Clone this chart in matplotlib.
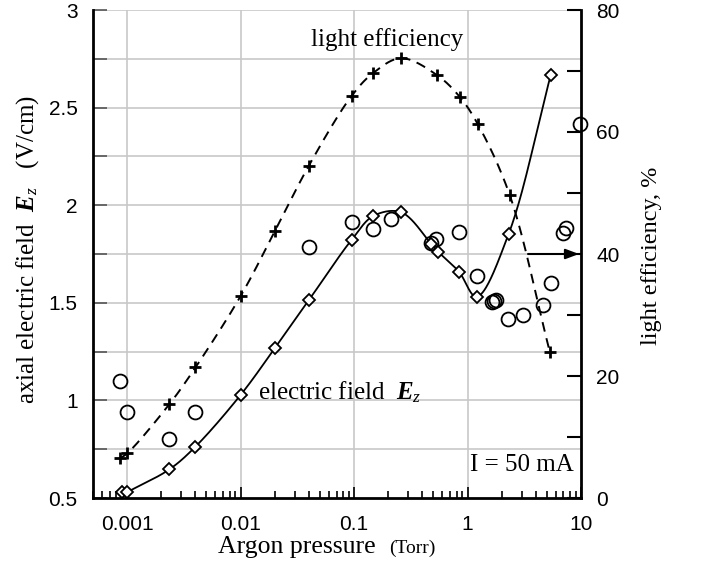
import numpy as np
import matplotlib
matplotlib.use("Agg")
import matplotlib.pyplot as plt
from matplotlib.ticker import FixedLocator, NullFormatter, LogLocator

plt.rcParams['mathtext.fontset'] = 'custom'
plt.rcParams['mathtext.rm'] = 'Liberation Serif'
plt.rcParams['mathtext.it'] = 'Liberation Serif:italic'
plt.rcParams['mathtext.bf'] = 'Liberation Serif:bold:italic'

# ---- data ----
ez_p = [0.0009, 0.001, 0.00236, 0.004, 0.01, 0.02, 0.04, 0.095, 0.148, 0.26,
        0.48, 0.55, 0.84, 1.2, 2.3, 5.4]
ez_v = [0.53, 0.53, 0.647, 0.763, 1.028, 1.267, 1.514, 1.822, 1.945, 1.964,
        1.80, 1.762, 1.659, 1.531, 1.852, 2.665]

eff_p = [0.00086, 0.001, 0.00236, 0.004, 0.01, 0.02, 0.04, 0.095, 0.148, 0.26,
         0.54, 0.85, 1.23, 2.35, 5.3]
eff_v = [6.5, 7.3, 15.4, 21.4, 33.1, 43.7, 54.5, 65.9, 69.7, 72.1,
         69.3, 65.8, 61.3, 49.7, 24.0]

circ_p = [0.00086, 0.001, 0.00236, 0.004, 0.04, 0.095, 0.148, 0.21,
          0.48, 0.53, 0.84, 1.2, 1.63, 1.71, 1.77, 2.29, 3.06, 4.66, 5.45,
          6.9, 7.4, 9.8]
circ_v = [1.099, 0.939, 0.802, 0.942, 1.787, 1.912, 1.878, 1.928,
          1.805, 1.827, 1.861, 1.639, 1.505, 1.51, 1.514, 1.417, 1.437, 1.489, 1.60,
          1.856, 1.882, 2.416]

x_ticks = [0.001, 0.01, 0.1, 1, 10]
x_labels = ["0.001", "0.01", "0.1", "1", "10"]
yl_ticks = [0.5, 1, 1.5, 2, 2.5, 3]
yl_labels = ["0.5", "1", "1.5", "2", "2.5", "3"]
yr_ticks = [0, 20, 40, 60, 80]


def smooth(xs, ys, yscale, n=40):
    P = np.column_stack([np.log10(xs) * 113.5, np.asarray(ys, float) * yscale])
    P = np.vstack([2 * P[0] - P[1], P, 2 * P[-1] - P[-2]])
    out = []
    a = 0.5
    for i in range(1, len(P) - 2):
        p0, p1, p2, p3 = P[i - 1], P[i], P[i + 1], P[i + 2]
        t0 = 0.0
        t1 = t0 + max(np.linalg.norm(p1 - p0), 1e-6) ** a
        t2 = t1 + max(np.linalg.norm(p2 - p1), 1e-6) ** a
        t3 = t2 + max(np.linalg.norm(p3 - p2), 1e-6) ** a
        t = np.linspace(t1, t2, n)[:, None]
        A1 = (t1 - t) / (t1 - t0) * p0 + (t - t0) / (t1 - t0) * p1
        A2 = (t2 - t) / (t2 - t1) * p1 + (t - t1) / (t2 - t1) * p2
        A3 = (t3 - t) / (t3 - t2) * p2 + (t - t2) / (t3 - t2) * p3
        B1 = (t2 - t) / (t2 - t0) * A1 + (t - t0) / (t2 - t0) * A2
        B2 = (t3 - t) / (t3 - t1) * A2 + (t - t1) / (t3 - t1) * A3
        C = (t2 - t) / (t2 - t1) * B1 + (t - t1) / (t2 - t1) * B2
        out.append(C)
    out = np.vstack(out)
    return 10 ** (out[:, 0] / 113.5), out[:, 1] / yscale


fig = plt.figure(figsize=(7.04, 5.69), dpi=100)
ax = fig.add_axes([93 / 704, 1 - 498 / 569, 488 / 704, 488 / 569])
ax2 = ax.twinx()

ax.set_xscale('log')
ax.set_xlim(0.0005, 10)
ax.set_ylim(0.5, 3)
ax2.set_ylim(0, 80)

# grid
gc = '#c8c8c8'
for xv in [0.001, 0.01, 0.1, 1]:
    ax.axvline(xv, color=gc, lw=1.2, zorder=0)
for yv in np.arange(0.75, 3.01, 0.25):
    ax.axhline(yv, color=gc, lw=1.2, zorder=0)

# curves
sx, sy = smooth(ez_p[1:], ez_v[1:], 195.2)
ax.plot(sx, sy, color='black', lw=1.3, zorder=3)
ex, ey = smooth(eff_p, eff_v, 6.1)
ax2.plot(ex, ey, color='black', lw=1.4, ls=(0, (5, 3.5)), zorder=3)

# markers
ax.plot(circ_p, circ_v, ls='none', marker='o', ms=10, mfc='none', mec='black',
        mew=1.3, zorder=4, clip_on=False)
ax.plot(ez_p, ez_v, ls='none', marker='D', ms=6.5, mfc='white', mec='black',
        mew=1.3, zorder=5, clip_on=False)
ax2.plot(eff_p, eff_v, ls='none', marker='+', ms=8, mec='black', mew=2, zorder=5)

# spines
for s in ['left', 'bottom']:
    ax.spines[s].set_linewidth(2)
ax.spines['top'].set_visible(False)
ax.spines['right'].set_visible(False)
ax2.spines['top'].set_visible(False)
ax2.spines['left'].set_visible(False)
ax2.spines['bottom'].set_visible(False)
ax2.spines['right'].set_linewidth(2)

# ticks
ax.set_xticks(x_ticks)
ax.set_xticklabels(x_labels)
ax.xaxis.set_minor_locator(LogLocator(base=10, subs=np.arange(2, 10)))
ax.xaxis.set_minor_formatter(NullFormatter())
ax.tick_params(axis='x', which='major', direction='in', length=8, width=1.2,
               pad=12, labelsize=15)
ax.tick_params(axis='x', which='minor', direction='in', length=5, width=1.2)
ax.set_yticks(yl_ticks)
ax.set_yticklabels(yl_labels)
ax.yaxis.set_minor_locator(FixedLocator(np.arange(0.75, 3, 0.5)))
ax.tick_params(axis='y', which='both', direction='in', length=10, width=1.2,
               pad=11, labelsize=15, color='#555555')
ax2.set_yticks(yr_ticks)
ax2.yaxis.set_minor_locator(FixedLocator([10, 30, 50, 70]))
ax2.tick_params(axis='y', which='both', direction='in', length=10, width=1.5,
                pad=11, labelsize=15)
for lab in ax.get_xticklabels() + ax.get_yticklabels() + ax2.get_yticklabels():
    lab.set_fontfamily('Liberation Sans')

serif = 'Liberation Serif'
fig.text(218 / 704, 1 - 547 / 569, "Argon pressure", fontsize=18.5,
         fontfamily=serif, ha='left', va='center')
fig.text(389 / 704, 1 - 548 / 569, "(Torr)", fontsize=14,
         fontfamily=serif, ha='left', va='center')
fig.text(28 / 704, 1 - 249 / 569,
         r"axial electric field  $\mathbf{E}_{\mathit{z}}$   (V/cm)",
         fontsize=18, fontfamily=serif, rotation=90, ha='center', va='center')
fig.text(652 / 704, 1 - 256 / 569, "light efficiency, %", fontsize=17.5,
         fontfamily=serif, rotation=90, ha='center', va='center')

ax.text((387 - 93) / 488, (498 - 40) / 488, "light efficiency", transform=ax.transAxes,
        fontsize=18, fontfamily=serif, ha='center', va='center')
ax.text((258 - 93) / 488, (498 - 392) / 488,
        r"electric field  $\mathbf{E}_{\mathit{z}}$", transform=ax.transAxes,
        fontsize=18, fontfamily=serif, ha='left', va='center')
ax.text((574 - 93) / 488, (498 - 465) / 488, "I = 50 mA", transform=ax.transAxes,
        fontsize=18, fontfamily=serif, ha='right', va='center')

ax.annotate("", xy=((579 - 93) / 488, (498 - 254) / 488),
            xytext=((528 - 93) / 488, (498 - 254) / 488),
            xycoords='axes fraction', textcoords='axes fraction',
            arrowprops=dict(arrowstyle='-|>,head_length=0.8,head_width=0.3',
                            color='black', lw=1.5, shrinkA=0, shrinkB=0))

fig.savefig("out.png", dpi=100)
